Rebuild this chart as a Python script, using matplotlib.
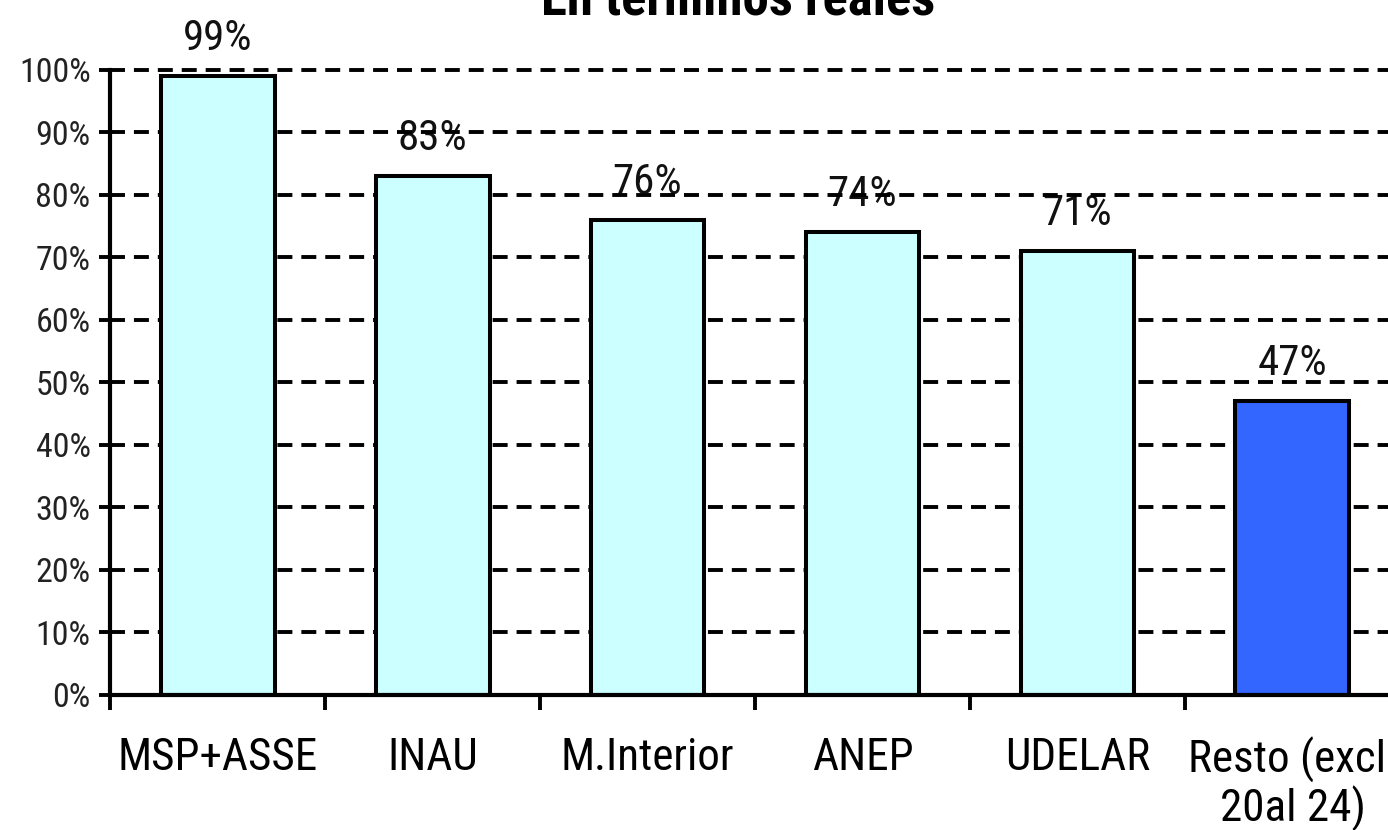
import numpy as np
import matplotlib.pyplot as plt
from matplotlib.ticker import FixedLocator, PercentFormatter

# Daten
categorias = ['MSP+ASSE', 'INAU', 'M.Interior', 'ANEP', 'UDELAR', 'Resto (excl.\n20al 24)']
valores = [0.99, 0.83, 0.76, 0.74, 0.71, 0.47]
etiquetas = ['99%', '83%', '76%', '74%', '71%', '47%']
colores = ['#CCFFFF', '#CCFFFF', '#CCFFFF', '#CCFFFF', '#CCFFFF', '#3366FF']

plt.rcParams['font.family'] = ['Roboto Condensed', 'Archivo Narrow', 'Liberation Sans', 'DejaVu Sans']

fig = plt.figure(figsize=(13.88, 8.30), dpi=100)
ax = fig.add_axes([0.0793, 0.1627, 0.9293, 0.7530])

x = np.arange(len(categorias))
ax.bar(x, valores, width=0.53, color=colores, edgecolor='black', linewidth=2.9, zorder=1)

# Beschriftung ueber den Balken (liegt unter den Gitterlinien)
for xi, v, t in zip(x, valores, etiquetas):
    ax.annotate(t, (xi, v), xytext=(0, 19), textcoords='offset points',
                ha='center', va='baseline', fontsize=31, color='#111111', zorder=0.3)

ax.set_xlim(-0.5, len(categorias) - 0.5)
ax.set_ylim(0, 1.0)

ax.set_axisbelow(True)
ax.yaxis.grid(True, color='black', linewidth=2.8, linestyle=(0, (3.85, 2.3)))
for linea in ax.get_ygridlines():
    linea.set_clip_on(False)

ax.set_yticks(np.arange(0, 1.01, 0.1))
ax.yaxis.set_major_formatter(PercentFormatter(1.0, decimals=0))
ax.tick_params(axis='y', length=8, width=2.8, pad=6, labelsize=24.5, labelcolor='#222222')

# Kategorien: Striche an den Grenzen, Text in der Mitte
ax.xaxis.set_major_locator(FixedLocator(np.arange(-0.5, len(categorias), 1.0)))
ax.xaxis.set_minor_locator(FixedLocator(x))
ax.set_xticklabels([])
ax.set_xticklabels(categorias, minor=True, linespacing=1.1)
ax.tick_params(axis='x', which='minor', length=0, pad=30, labelsize=32.5)
ax.tick_params(axis='x', which='major', length=11, width=2.8)

for s in ['top', 'right']:
    ax.spines[s].set_visible(False)
for s in ['left', 'bottom']:
    ax.spines[s].set_linewidth(3)

fig.text(0.532, 0.982, 'En términos reales', ha='center', va='baseline',
         fontsize=38, fontweight='bold')

fig.savefig('out.png', dpi=100)
